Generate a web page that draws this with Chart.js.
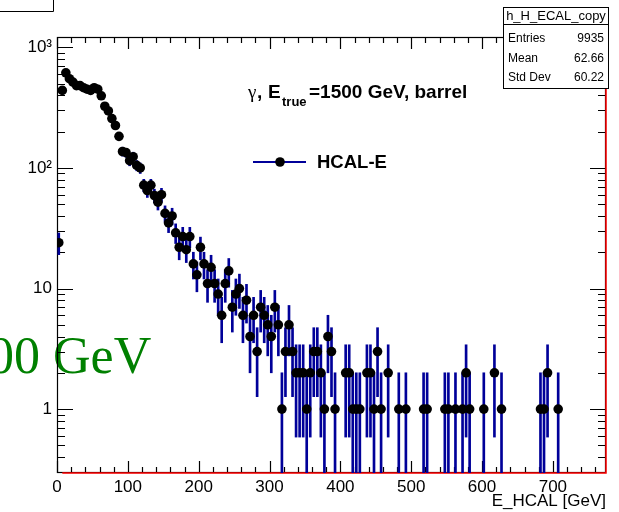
<!DOCTYPE html>
<html>
<head>
<meta charset="utf-8">
<script src="https://cdn.jsdelivr.net/npm/chart.js@4.4.1/dist/chart.umd.min.js"></script>
<style>
html, body { margin: 0; padding: 0; background: #fff; }
canvas { display: block; }
</style>
</head>
<body>
<canvas id="mycanvas" width="619" height="512"></canvas>
<script>
// bin centres (GeV) of the non-empty 5 GeV bins and their contents
var binCenters = [
	2.5, 7.5, 12.5, 17.5, 22.5, 27.5, 32.5, 37.5, 42.5, 47.5,
	52.5, 57.5, 62.5, 67.5, 72.5, 77.5, 82.5, 87.5, 92.5, 97.5,
	102.5, 107.5, 112.5, 117.5, 122.5, 127.5, 132.5, 137.5, 142.5, 147.5,
	152.5, 157.5, 162.5, 167.5, 172.5, 177.5, 182.5, 187.5, 192.5, 197.5,
	202.5, 207.5, 212.5, 217.5, 222.5, 227.5, 232.5, 237.5, 242.5, 247.5,
	252.5, 257.5, 262.5, 267.5, 272.5, 277.5, 282.5, 287.5, 292.5, 297.5,
	302.5, 307.5, 312.5, 317.5, 322.5, 327.5, 332.5, 337.5, 342.5, 347.5,
	352.5, 357.5, 362.5, 367.5, 372.5, 377.5, 382.5, 387.5, 392.5,
	407.5, 412.5, 417.5, 422.5, 427.5, 437.5, 442.5, 447.5, 452.5, 457.5, 467.5,
	482.5, 492.5, 517.5, 522.5, 547.5, 552.5, 562.5, 572.5, 577.5, 582.5,
	602.5, 617.5, 627.5, 682.5, 687.5, 692.5, 707.5
];
var counts = [
	24, 440, 615, 550, 515, 482, 482, 463, 450, 440,
	463, 450, 397, 325, 297, 257, 225, 183, 137, 134,
	115, 124, 105, 100, 72, 65, 72, 59, 52, 60,
	42, 35, 40, 29, 22, 27, 21, 27, 16, 13,
	22, 16, 11, 15, 11, 9, 6, 11, 14, 7,
	9, 10, 6, 8, 4, 6, 3, 7, 6, 5,
	4, 7, 5, 1, 3, 5, 3, 2, 2, 2,
	1, 2, 3, 3, 2, 1, 4, 3, 1,
	2, 2, 1, 1, 1, 2, 2, 1, 3, 1, 2,
	1, 1, 1, 1, 1, 1, 1, 1, 2, 1,
	1, 2, 1, 1, 1, 2, 1
];

// red histogram outline lying on the frame
var redX = [7.5, 775, 775];
var redY = [0.295, 0.295, 1220];

var xTicks = [0, 100, 200, 300, 400, 500, 600, 700];
var yTicks = [1, 10, 100, 1000];
var yTickLabels = ['1', '10', '10\u00b2', '10\u00b3'];

var statsTitle = 'h_H_ECAL_copy';
var statsLabels = ['Entries', 'Mean', 'Std Dev'];
var statsValues = ['9935', '62.66', '60.22'];

var xMin = 0, xMax = 775, yMin = 0.295, yMax = 1220;
var sans = '"Liberation Sans", Arial, sans-serif';

var points = [];
var errBars = [];
for (var i in binCenters) {
	var n = counts[i];
	var e = Math.sqrt(n);
	points.push({x: binCenters[i], y: n});
	errBars.push({x: binCenters[i], y: [Math.max(n - e, yMin), n + e]});
}
var redLine = [];
for (var j in redX) {
	redLine.push({x: redX[j], y: redY[j]});
}

var rootFrame = {
	id: 'rootFrame',
	beforeDatasetsDraw: function(chart) {
		var ctx = chart.ctx, a = chart.chartArea;
		var x = chart.scales.x, y = chart.scales.y;
		ctx.save();
		// big green label, mostly outside the canvas
		ctx.fillStyle = '#008000';
		ctx.font = '52px "Liberation Serif", serif';
		ctx.textAlign = 'left';
		ctx.textBaseline = 'alphabetic';
		ctx.fillText('1500 GeV', -64, 373);

		ctx.strokeStyle = '#000';
		ctx.lineWidth = 1.2;
		ctx.strokeRect(a.left + 0.5, a.top + 0.5, a.right - a.left - 1, a.bottom - a.top - 1);
		ctx.beginPath();
		for (var v = xMin; v <= xMax; v += 20) {
			var px = Math.round(x.getPixelForValue(v)) + 0.5;
			var len = (v % 100 === 0) ? 12 : 6;
			ctx.moveTo(px, a.bottom); ctx.lineTo(px, a.bottom - len);
			ctx.moveTo(px, a.top); ctx.lineTo(px, a.top + len);
		}
		for (var d = -1; d <= 3; d++) {
			for (var m = 1; m <= 9; m++) {
				var val = m * Math.pow(10, d);
				if (val < yMin || val > yMax) continue;
				var py = Math.round(y.getPixelForValue(val)) + 0.5;
				var l = (m === 1) ? 16 : 8;
				ctx.moveTo(a.left, py); ctx.lineTo(a.left + l, py);
				ctx.moveTo(a.right, py); ctx.lineTo(a.right - l, py);
			}
		}
		ctx.stroke();
		ctx.restore();
	},
	afterDraw: function(chart) {
		var ctx = chart.ctx;
		ctx.save();
		ctx.fillStyle = '#000';
		ctx.textBaseline = 'alphabetic';
		ctx.textAlign = 'left';

		// header text
		ctx.font = '19px "Liberation Serif", serif';
		ctx.fillText('\u03b3', 248, 98);
		ctx.font = 'bold 19px ' + sans;
		ctx.fillText(',', 257, 98);
		ctx.fillText('E', 268, 98);
		ctx.font = 'bold 13px ' + sans;
		ctx.fillText('true', 282, 106);
		ctx.font = 'bold 19px ' + sans;
		ctx.fillText('=1500 GeV, barrel', 309, 98);

		// legend
		ctx.strokeStyle = '#000099';
		ctx.lineWidth = 2;
		ctx.beginPath();
		ctx.moveTo(253, 162); ctx.lineTo(306, 162);
		ctx.stroke();
		ctx.beginPath();
		ctx.arc(280, 162, 4.8, 0, Math.PI * 2);
		ctx.fill();
		ctx.font = 'bold 18.5px ' + sans;
		ctx.textBaseline = 'middle';
		ctx.fillText('HCAL-E', 317, 163);

		// stats box
		ctx.fillStyle = '#fff';
		ctx.fillRect(503, 7, 105, 81);
		ctx.strokeStyle = '#000';
		ctx.lineWidth = 1;
		ctx.strokeRect(503.5, 7.5, 105, 81);
		ctx.beginPath();
		ctx.moveTo(503.5, 24.5); ctx.lineTo(608.5, 24.5);
		ctx.stroke();
		ctx.fillStyle = '#000';
		ctx.font = '13px ' + sans;
		ctx.textAlign = 'center';
		ctx.fillText(statsTitle, 556, 16);
		ctx.font = '12px ' + sans;
		var rowY = [39, 59, 78];
		for (var r in statsLabels) {
			ctx.textAlign = 'left';
			ctx.fillText(statsLabels[r], 508, rowY[r]);
			ctx.textAlign = 'right';
			ctx.fillText(statsValues[r], 604, rowY[r]);
		}

		// corner of the title box
		ctx.beginPath();
		ctx.moveTo(0, 11.5); ctx.lineTo(53.5, 11.5); ctx.lineTo(53.5, 0);
		ctx.stroke();
		ctx.restore();
	}
};

var ctx = document.getElementById('mycanvas');

var histo = new Chart(ctx, {
	type: 'scatter',
	data: {
		datasets: [
			{
				type: 'scatter',
				label: 'HCAL-E',
				data: points,
				pointRadius: 4.8,
				pointBackgroundColor: '#000',
				pointBorderWidth: 0,
				order: 0
			},
			{
				type: 'bar',
				label: 'errors',
				data: errBars,
				backgroundColor: '#000099',
				borderWidth: 0,
				barThickness: 2,
				order: 1
			},
			{
				type: 'line',
				label: 'red',
				data: redLine,
				borderColor: '#ff0000',
				borderWidth: 1.5,
				pointRadius: 0,
				fill: false,
				clip: 3,
				order: 2
			}
		]
	},
	options: {
		responsive: false,
		devicePixelRatio: 1,
		animation: false,
		events: [],
		layout: { padding: { top: 37, left: 0, right: 13, bottom: 0 } },
		plugins: {
			legend: { display: false },
			tooltip: { enabled: false }
		},
		scales: {
			x: {
				type: 'linear',
				min: xMin,
				max: xMax,
				offset: false,
				grid: { display: false, drawTicks: false },
				border: { display: false },
				afterBuildTicks: function(scale) {
					scale.ticks = xTicks.map(function(v) { return {value: v}; });
				},
				afterFit: function(scale) { scale.height = 39; },
				ticks: {
					color: '#000',
					padding: 4,
					maxRotation: 0,
					font: { family: sans, size: 17 }
				},
				title: {
					display: true,
					text: 'E_HCAL [GeV]',
					align: 'end',
					color: '#000',
					padding: { top: 0, bottom: 0 },
					font: { family: sans, size: 17 }
				}
			},
			y: {
				type: 'logarithmic',
				min: yMin,
				max: yMax,
				grid: { display: false, drawTicks: false },
				border: { display: false },
				afterBuildTicks: function(scale) {
					scale.ticks = yTicks.map(function(v) { return {value: v}; });
				},
				afterFit: function(scale) { scale.width = 57; },
				ticks: {
					color: '#000',
					padding: 5,
					font: { family: sans, size: 17 },
					callback: function(value) {
						var k = yTicks.indexOf(value);
						return k >= 0 ? yTickLabels[k] : '';
					}
				}
			}
		}
	},
	plugins: [rootFrame]
});
</script>
</body>
</html>
